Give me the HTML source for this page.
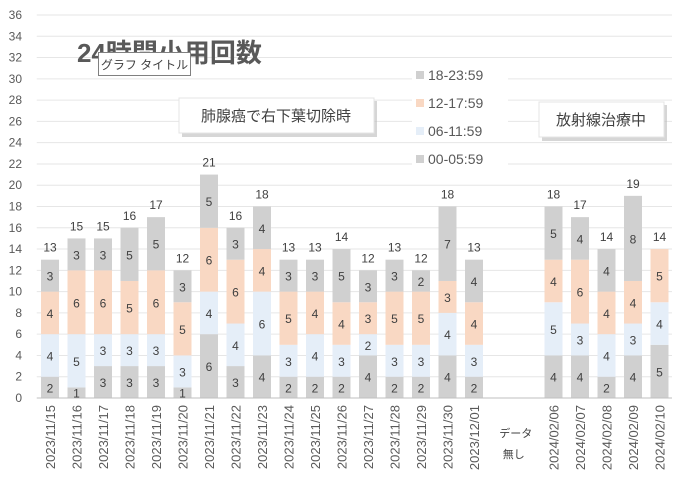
<!DOCTYPE html>
<html><head><meta charset="utf-8"><style>
body{margin:0;background:#fff;}
svg{display:block;font-family:"Liberation Sans","Noto Sans CJK JP",sans-serif;}
</style></head><body>
<svg id="chart" width="677" height="480" viewBox="0 0 677 480" xmlns="http://www.w3.org/2000/svg">
<g id="grid"></g><g id="bars"></g><g id="labels"></g><g id="xaxis"></g>
<text x="77" y="62" font-size="26" font-weight="bold" fill="#595959">24時間小用回数</text>
<g>
<rect x="98.5" y="52.5" width="92" height="23" fill="#fff" stroke="#808080"/>
<text x="144.5" y="69" font-size="12" fill="#404040" text-anchor="middle">グラフ タイトル</text></g>
<g>
<rect x="182" y="101" width="195" height="36" fill="#bbb" opacity="0.6"/>
<rect x="179" y="98" width="195" height="35" fill="#fff" stroke="#e4e4e4"/>
<text x="276" y="121" font-size="15" fill="#404040" text-anchor="middle">肺腺癌で右下葉切除時</text></g>
<g>
<rect x="542" y="105" width="125" height="36" fill="#bbb" opacity="0.6"/>
<rect x="539" y="102" width="125" height="35" fill="#fff" stroke="#e4e4e4"/>
<text x="601" y="125" font-size="15" fill="#404040" text-anchor="middle">放射線治療中</text></g>
<g id="legend"></g>
</svg>
<script>
const categories=["2023/11/15","2023/11/16","2023/11/17","2023/11/18","2023/11/19","2023/11/20","2023/11/21","2023/11/22","2023/11/23","2023/11/24","2023/11/25","2023/11/26","2023/11/27","2023/11/28","2023/11/29","2023/11/30","2023/12/01","","","2024/02/06","2024/02/07","2024/02/08","2024/02/09","2024/02/10"];
const s0005=[2,1,3,3,3,1,6,3,4,2,2,2,4,2,2,4,2,null,null,4,4,2,4,5];
const s0611=[4,5,3,3,3,3,4,4,6,3,4,3,2,3,3,4,3,null,null,5,3,4,3,4];
const s1217=[4,6,6,5,6,5,6,6,4,5,4,4,3,5,5,3,4,null,null,4,6,4,4,5];
const s1823=[3,3,3,5,5,3,5,3,4,3,3,5,3,3,2,7,4,null,null,5,4,4,8,0];
const yTicks=[0,2,4,6,8,10,12,14,16,18,20,22,24,26,28,30,32,34,36];
const seriesNames=["00-05:59","06-11:59","12-17:59","18-23:59"];
const series=[s0005,s0611,s1217,s1823];
const colors=["#d0d0d0","#e5eef8","#f9d8c3","#d0d0d0"];
const NS="http://www.w3.org/2000/svg";
const x0=36.75,step=26.5,y0=398,yTop=15;
const y=v=>y0-(v/36)*(y0-yTop);
const xc=i=>x0+step*(i+0.5);
function mk(t,a,p,txt){const e=document.createElementNS(NS,t);for(const k in a)e.setAttribute(k,a[k]);if(txt!==undefined)e.textContent=txt;p.appendChild(e);return e;}
const G=document.getElementById('grid'),B=document.getElementById('bars'),L=document.getElementById('labels'),X=document.getElementById('xaxis'),LG=document.getElementById('legend');
yTicks.forEach(t=>{
 if(t>0){const g=mk('line',{x1:x0,x2:672,y1:y(t),y2:y(t),stroke:'#e6e6e6','stroke-width':1},G);
 
 }
 const tl=mk('text',{x:22,y:y(t)+4,'font-size':12,fill:'#595959','text-anchor':'end'},G,String(t));
 
 
});
const ax=mk('line',{x1:x0,x2:672,y1:y0,y2:y0,stroke:'#bfbfbf','stroke-width':1},X);


categories.forEach((c,i)=>{
 const cx=xc(i);
 if(c){
  const t=mk('text',{x:0,y:0,'font-size':13,fill:'#595959','text-anchor':'end',transform:`translate(${cx+5},405) rotate(-90)`},X,c);
  
  
 }
 if(s0005[i]===null)return;
 let base=0;
 series.forEach((s,k)=>{
  const v=s[i];if(!v)return;
  const r=mk('rect',{x:cx-9,y:y(base+v),width:18,height:y(base)-y(base+v),fill:colors[k]},B);
  
  
  const l=mk('text',{x:cx,y:(y(base)+y(base+v))/2+5,'font-size':12,fill:'#404040','text-anchor':'middle'},L,String(v));
  
  
  base+=v;
 });
 const tot=mk('text',{x:cx,y:y(base)-8,'font-size':12,fill:'#404040','text-anchor':'middle'},L,String(base));
 
 
});
const nd=mk('text',{x:xc(17.5)+2,y:437,'font-size':11,fill:'#404040','text-anchor':'middle'},X,'データ');


const nd2=mk('text',{x:xc(17.5),y:458,'font-size':11,fill:'#404040','text-anchor':'middle'},X,'無し');


[3,2,1,0].forEach((k,j)=>{
 const ly=75+j*28;
 const bg=mk('rect',{x:412,y:ly-11,width:96,height:22,fill:'#fff'},LG);
 
 
 const sw=mk('rect',{x:416,y:ly-4,width:8,height:8,fill:colors[k]},LG);
 
 
 const tx=mk('text',{x:428,y:ly+5,'font-size':14,fill:'#595959'},LG,seriesNames[k]);
 
 
});
</script>
</body></html>
